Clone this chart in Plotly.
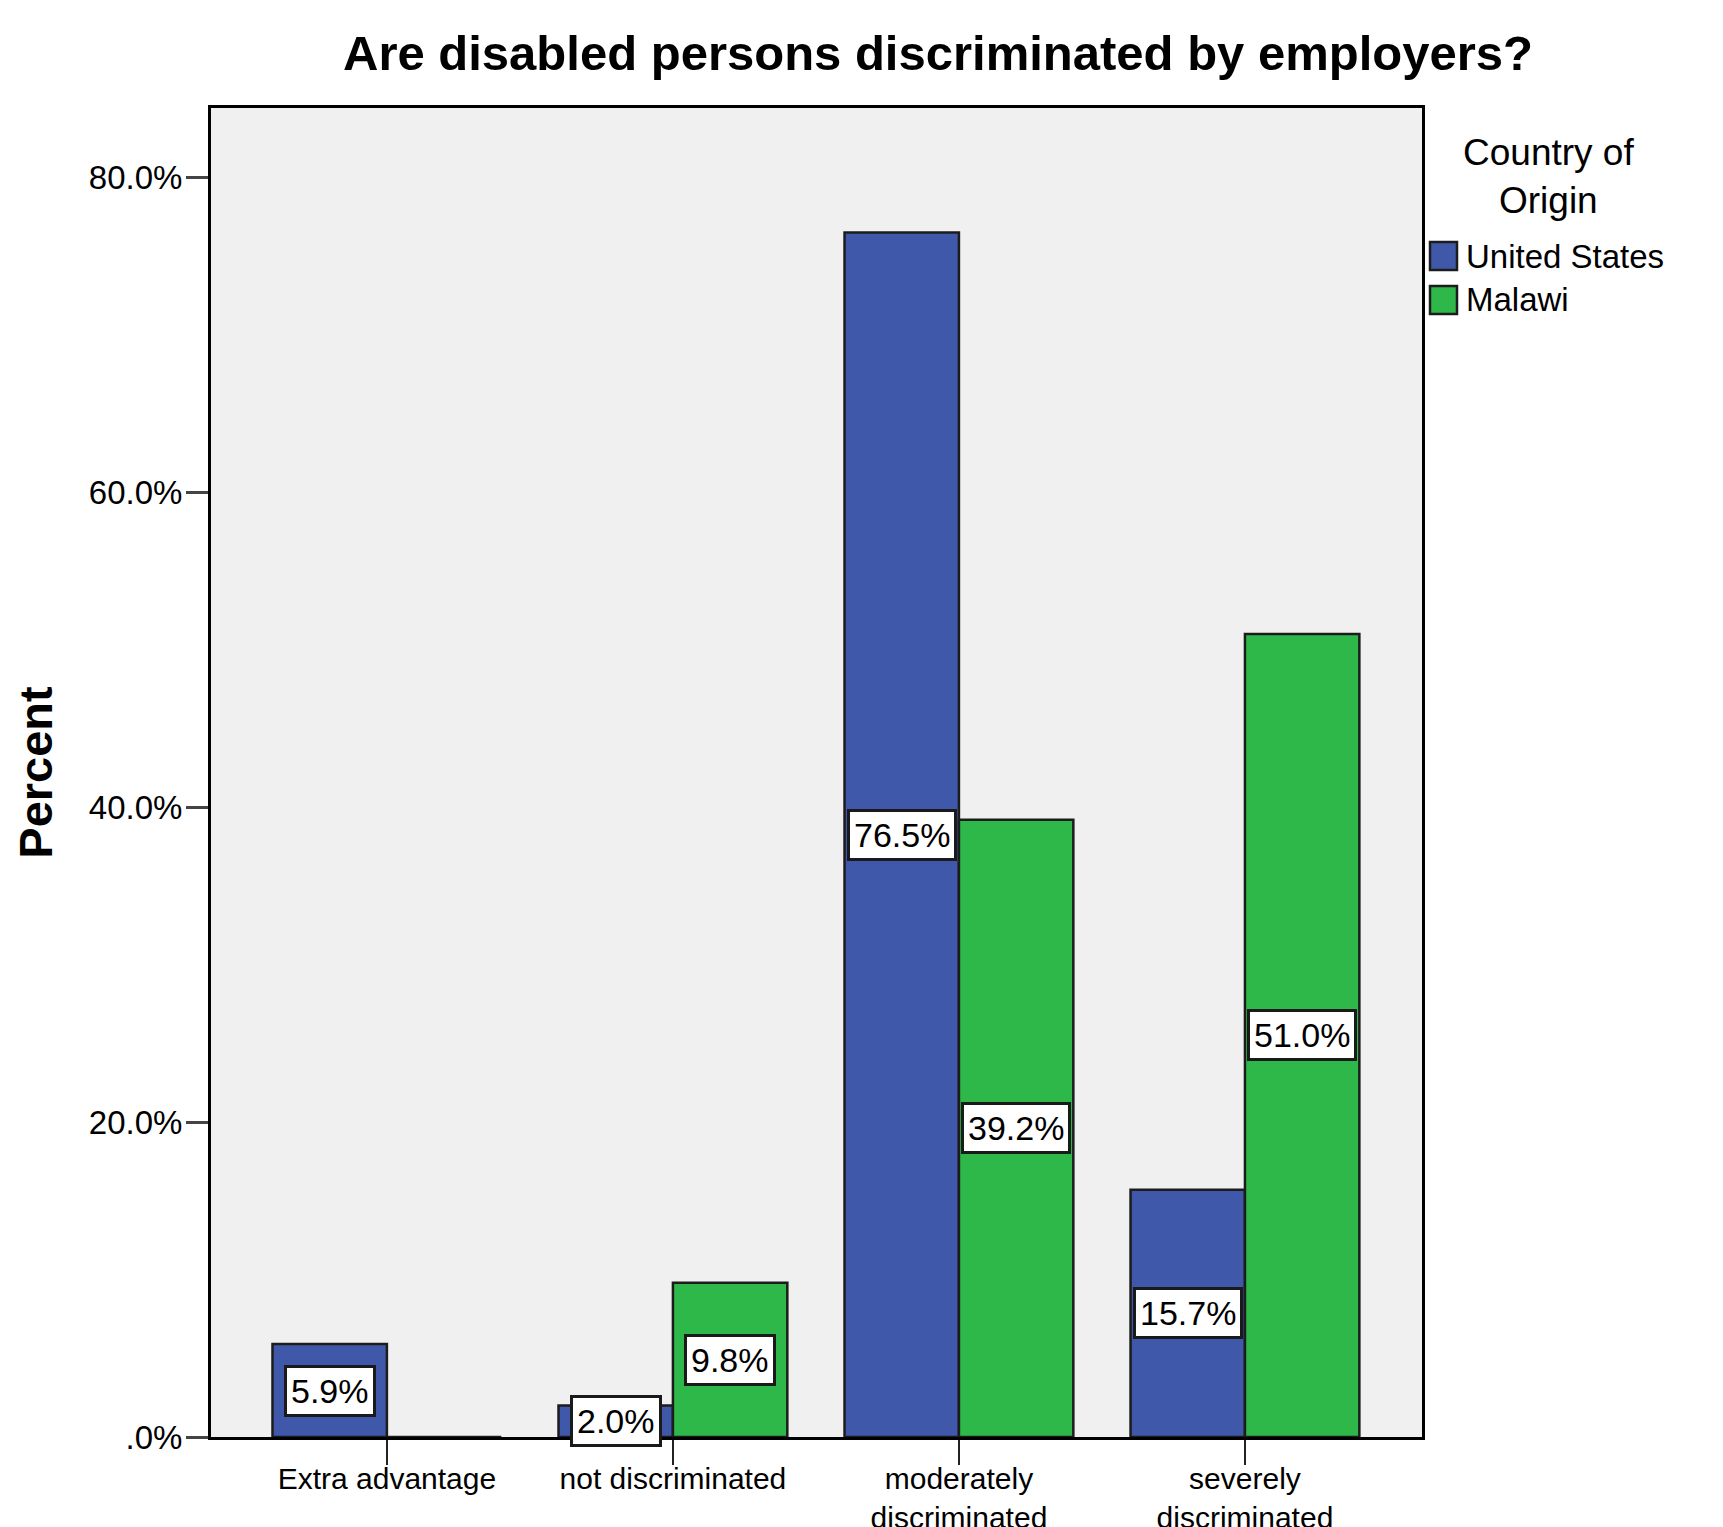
import plotly.graph_objects as go

# ---------------- data ----------------
categories = ["Extra advantage", "not discriminated",
              "moderately discriminated", "severely discriminated"]
tick_labels = ["Extra advantage", "not discriminated",
               "moderately<br>discriminated", "severely<br>discriminated"]
series_names = ["United States", "Malawi"]
us_values = [5.9, 2.0, 76.5, 15.7]
malawi_values = [0.0, 9.8, 39.2, 51.0]
y_tick_values = [0, 20, 40, 60, 80]
y_tick_labels = [".0%", "20.0%", "40.0%", "60.0%", "80.0%"]

# ---------------- styles ----------------
W, H = 1723, 1527
ML, MR, MT, MB = 211, 301, 108, 90
PW, PH = W - ML - MR, H - MT - MB
FONT = "Liberation Sans, Arial, sans-serif"
colors = ["#3F58A9", "#2EB84A"]
edge = "#1c1c1c"
series_values = [us_values, malawi_values]


def px_x(px):
    return (px - ML) / PW


def px_y(py):
    return (H - MB - py) / PH


fig = go.Figure()
for name, vals, col in zip(series_names, series_values, colors):
    fig.add_trace(go.Bar(
        x=categories, y=vals, name=name,
        marker=dict(color=col, line=dict(color=edge, width=2.5)),
        showlegend=False,
        hovertemplate="%{x}: %{y:.1f}%<extra>" + name + "</extra>",
    ))

# value labels in white boxes at bar centres
offsets = [-0.2, 0.2]
annotations = []
for vals, off in zip(series_values, offsets):
    for i, v in enumerate(vals):
        if v <= 0:
            continue
        annotations.append(dict(
            x=i + off, y=v / 2, xref="x", yref="y",
            text=f"{v:.1f}%", showarrow=False,
            font=dict(family=FONT, size=34, color="black"),
            bgcolor="white", bordercolor="#1a1a1a", borderwidth=3, borderpad=4,
        ))

# manual legend (large swatches like the reference)
annotations.append(dict(
    x=px_x(1548), y=px_y(130), xref="paper", yref="paper",
    xanchor="center", yanchor="top", showarrow=False,
    text="Country of<br>Origin", align="center",
    font=dict(family=FONT, size=37, color="black"),
))
shapes = []
item_centres = [256, 300]
for name, col, cy in zip(series_names, colors, item_centres):
    shapes.append(dict(
        type="rect", xref="paper", yref="paper",
        x0=px_x(1430), x1=px_x(1457), y0=px_y(cy + 14), y1=px_y(cy - 14),
        fillcolor=col, line=dict(color=edge, width=2.5),
    ))
    annotations.append(dict(
        x=px_x(1464), y=px_y(cy), xref="paper", yref="paper",
        xanchor="left", yanchor="middle", showarrow=False, text=name,
        font=dict(family=FONT, size=33, color="black"),
    ))

fig.update_layout(
    width=W, height=H,
    margin=dict(l=ML, r=MR, t=MT, b=MB, autoexpand=False),
    paper_bgcolor="white", plot_bgcolor="#F0F0F0",
    barmode="group", bargap=0.2, bargroupgap=0,
    font=dict(family=FONT, color="black"),
    title=dict(
        text="<b>Are disabled persons discriminated by employers?</b>",
        x=938 / W, xref="container", xanchor="center",
        y=1 - 53 / H, yref="container", yanchor="middle",
        font=dict(family=FONT, size=49, color="black"),
    ),
    xaxis=dict(
        type="category", range=[-0.615, 3.619],
        tickmode="array", tickvals=categories, ticktext=tick_labels,
        ticks="outside", ticklen=25, tickwidth=2, tickcolor="#222",
        ticklabelstandoff=-12,
        tickfont=dict(family=FONT, size=30, color="black"),
        showline=True, linewidth=3, linecolor="black", mirror=True,
        showgrid=False, zeroline=False,
    ),
    yaxis=dict(
        range=[0, 84.4],
        tickmode="array", tickvals=y_tick_values, ticktext=y_tick_labels,
        ticks="outside", ticklen=22, tickwidth=3, tickcolor="#444",
        ticklabelstandoff=-3,
        tickfont=dict(family=FONT, size=33, color="black"),
        showline=True, linewidth=3, linecolor="black", mirror=True,
        showgrid=False, zeroline=False,
        title=dict(text="<b>Percent</b>", standoff=22,
                   font=dict(family=FONT, size=47, color="black")),
    ),
    annotations=annotations,
    shapes=shapes,
)

fig.write_html("out.html")
